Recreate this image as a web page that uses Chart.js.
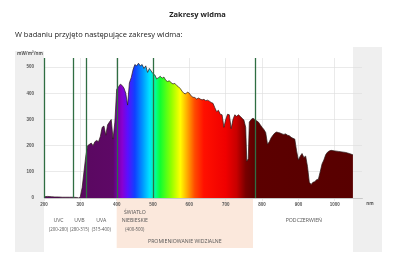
<!DOCTYPE html>
<html>
<head>
<meta charset="utf-8">
<script src="https://cdn.jsdelivr.net/npm/chart.js@4"></script>
<style>
    body { margin: 0; background: #fff; font-family: "Open Sans", sans-serif; }
    #wrap { position: relative; width: 400px; height: 260px; overflow: hidden; }
    #title { position: absolute; top: 9px; left: 0; width: 395px; text-align: center; font-size: 7.5px; font-weight: bold; color: #222; }
    #subtitle { position: absolute; top: 29px; left: 15px; font-size: 7.5px; color: #222; }
    canvas { position: absolute; left: 0; top: 0; }
</style>
</head>
<body>
<div id="wrap">
    <canvas id="spectrum" width="400" height="260"></canvas>
    <div id="title">Zakresy widma</div>
    <div id="subtitle">W badaniu przyjęto następujące zakresy widma:</div>
</div>
<script>
// Spectrum (nm, mW/m²/nm)
const wavelengths = [200, 210, 220, 230, 240, 250, 260, 270, 280, 290, 296, 300, 305, 310, 315, 320, 325, 330, 335, 340,
    345, 350, 355, 360, 365, 370, 375, 380, 385, 390, 395, 400, 405, 410, 415, 420, 425, 430, 435, 440,
    445, 450, 455, 460, 465, 470, 475, 480, 485, 490, 495, 500, 505, 510, 515, 520, 525, 530, 535, 540,
    545, 550, 555, 560, 565, 570, 575, 580, 585, 590, 595, 600, 605, 610, 615, 620, 625, 630, 635, 640,
    645, 650, 655, 660, 665, 670, 675, 680, 685, 690, 695, 700, 705, 710, 715, 720, 725, 730, 735, 740,
    745, 750, 755, 758, 762, 765, 770, 775, 780, 785, 790, 795, 800, 805, 810, 815, 820, 825, 830, 835,
    840, 845, 850, 855, 860, 865, 870, 875, 880, 885, 890, 895, 900, 905, 910, 915, 920, 925, 930, 935,
    940, 945, 950, 955, 960, 965, 970, 975, 980, 985, 990, 1000, 1010, 1020, 1030, 1040, 1050];
const irradiance = [5, 6, 5, 4, 4, 3, 3, 3, 3, 2, 0, 5, 40, 100, 160, 200, 205, 210, 200, 215,
    220, 215, 235, 270, 275, 240, 280, 290, 300, 225, 290, 415, 425, 435, 430, 420, 400, 355, 440, 460,
    490, 510, 505, 515, 505, 510, 495, 505, 480, 495, 485, 475, 470, 455, 460, 465, 458, 462, 450, 445,
    448, 440, 436, 438, 430, 425, 418, 408, 400, 398, 405, 400, 390, 385, 384, 378, 382, 378, 375, 377,
    372, 374, 370, 365, 362, 345, 330, 335, 320, 318, 270, 300, 320, 318, 265, 300, 318, 312, 318, 312,
    305, 298, 270, 140, 150, 290, 300, 305, 300, 295, 290, 280, 270, 262, 250, 205, 215, 230, 240, 248,
    252, 250, 248, 245, 243, 245, 240, 238, 232, 228, 225, 180, 145, 160, 170, 155, 160, 120, 60, 52,
    60, 62, 70, 72, 100, 130, 145, 165, 175, 180, 182, 180, 178, 176, 174, 170, 165];

const xTicks = [200, 300, 400, 500, 600, 700, 800, 900, 1000];
const yTicks = [0, 100, 200, 300, 400, 500];

// band borders drawn as green lines
const bandLines = [200, 280, 315, 400, 500, 780];

// band captions under the axis
const bandNames = ['UVC', 'UVB', 'UVA', 'ŚWIATŁO\nNIEBIESKIE', 'PODCZERWIEŃ'];
const bandRanges = ['(200-280)', '(280-315)', '(315-400)', '(400-500)', ''];
const bandFrom = [200, 280, 315, 400, 780];
const bandTo = [280, 315, 400, 500, 1050];

const visibleName = 'PROMIENIOWANIE WIDZIALNE';
const visibleRange = [400, 775];

// rainbow colours along the wavelength axis
const spectrumStops = [
    [200, '#55085a'], [390, '#5e0866'], [400, '#7000a0'], [415, '#8a00d0'], [430, '#5a10ff'],
    [450, '#1040ff'], [470, '#0090ff'], [490, '#00e0ff'], [505, '#00ffa0'], [520, '#10ff30'],
    [550, '#90ff00'], [575, '#ffff00'], [595, '#ffa500'], [615, '#ff4a00'], [640, '#ff1000'],
    [700, '#f00000'], [730, '#c80000'], [755, '#780000'], [780, '#5c0000'], [1075, '#580000']
];

function spectrumFill(context) {
    const chart = context.chart;
    const area = chart.chartArea;
    if (!area) return '#5c0000';
    const x = chart.scales.x;
    const g = chart.ctx.createLinearGradient(area.left, 0, area.right, 0);
    const w = area.right - area.left;
    spectrumStops.forEach(s => {
        const p = (x.getPixelForValue(s[0]) - area.left) / w;
        g.addColorStop(Math.min(1, Math.max(0, p)), s[1]);
    });
    return g;
}

const backdrop = {
    id: 'backdrop',
    beforeDraw(chart) {
        const ctx = chart.ctx;
        const x = chart.scales.x;
        const a = chart.chartArea;
        ctx.save();
        ctx.fillStyle = '#efefef';
        ctx.fillRect(15, 51, 29, 201);
        ctx.fillRect(353, 47, 29, 205);
        ctx.fillStyle = '#fbe8dc';
        const l = x.getPixelForValue(visibleRange[0]);
        const r = x.getPixelForValue(visibleRange[1]);
        ctx.fillRect(l, a.bottom + 1, r - l, 49);
        ctx.restore();
    },
    afterDatasetsDraw(chart) {
        const ctx = chart.ctx;
        const x = chart.scales.x;
        const a = chart.chartArea;
        ctx.save();
        ctx.strokeStyle = '#2f6e42';
        ctx.lineWidth = 1.3;
        bandLines.forEach(v => {
            const px = Math.round(x.getPixelForValue(v)) + 0.5;
            ctx.beginPath();
            ctx.moveTo(px, a.top);
            ctx.lineTo(px, a.bottom);
            ctx.stroke();
        });

        ctx.fillStyle = '#555';
        ctx.textAlign = 'center';
        ctx.textBaseline = 'middle';
        bandNames.forEach((name, i) => {
            const cx = x.getPixelForValue((bandFrom[i] + bandTo[i]) / 2);
            const lines = name.split('\n');
            let y = 221 - (lines.length - 1) * 8;
            ctx.font = '5.2px "Open Sans", sans-serif';
            lines.forEach(t => { ctx.fillText(t, cx, y); y += 8; });
            ctx.font = '4.4px "Open Sans", sans-serif';
            if (bandRanges[i]) ctx.fillText(bandRanges[i], cx, 229.5);
        });
        ctx.font = '5.2px "Open Sans", sans-serif';
        const vc = x.getPixelForValue((visibleRange[0] + visibleRange[1]) / 2);
        ctx.fillText(visibleName, vc, 242);

        ctx.font = 'bold 4.5px "Open Sans", sans-serif';
        ctx.fillText('nm', 370, 204);
        ctx.textAlign = 'left';
        ctx.fillText('mW/m²/nm', 17, 54);
        ctx.restore();
    }
};

new Chart(document.getElementById('spectrum'), {
    type: 'line',
    data: {
        datasets: [{
            data: wavelengths.map((w, i) => ({ x: w, y: irradiance[i] })),
            borderColor: '#2b1a1a',
            borderWidth: 0.7,
            backgroundColor: spectrumFill,
            fill: 'origin',
            pointRadius: 0,
            tension: 0
        }]
    },
    options: {
        responsive: false,
        animation: false,
        layout: { padding: { top: 58, right: 38, left: 0, bottom: 0 } },
        plugins: { legend: { display: false }, tooltip: { enabled: false } },
        scales: {
            x: {
                type: 'linear',
                min: 200,
                max: 1075,
                afterBuildTicks: s => { s.ticks = xTicks.map(v => ({ value: v })); },
                afterFit: s => { s.height = 62; },
                ticks: { color: '#555', font: { size: 4.5, weight: 'bold' }, padding: 1, maxRotation: 0, callback: v => String(v) },
                grid: { color: '#dcdcdc', lineWidth: 0.6, tickLength: 3 },
                border: { color: '#c8c8c8' }
            },
            y: {
                min: 0,
                max: 535,
                afterBuildTicks: s => { s.ticks = yTicks.map(v => ({ value: v })); },
                afterFit: s => { s.width = 44; },
                ticks: { color: '#555', font: { size: 4.5, weight: 'bold' }, padding: 10 },
                grid: { color: '#dcdcdc', lineWidth: 0.6, drawTicks: false },
                border: { color: '#c8c8c8' }
            }
        }
    },
    plugins: [backdrop]
});
</script>
</body>
</html>
